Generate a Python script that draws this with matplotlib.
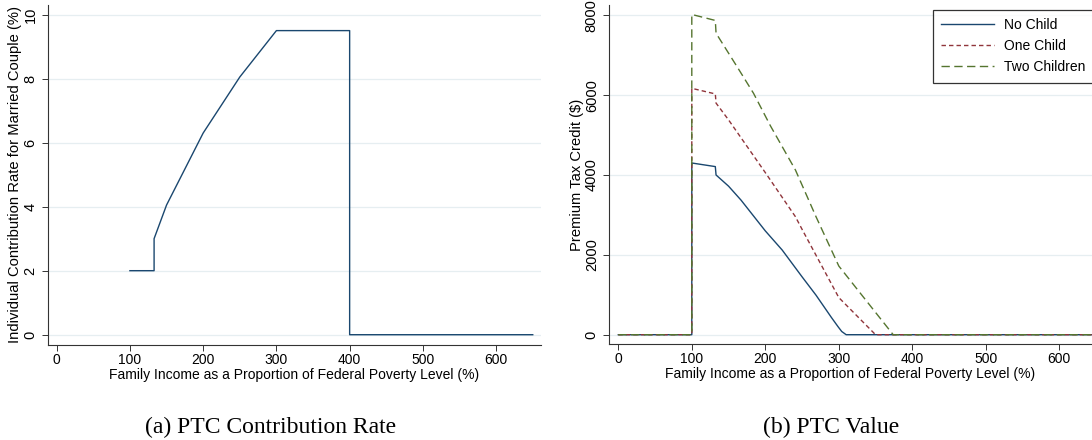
import matplotlib
matplotlib.use("Agg")
import matplotlib.pyplot as plt

# ---- data ----
# (a) contribution rate for a married couple, % of income
rate_x = [100, 133, 133, 150, 200, 250, 300, 400, 400, 650]
rate_y = [2.0, 2.0, 3.0, 4.05, 6.3, 8.05, 9.5, 9.5, 0.0, 0.0]

# (b) premium tax credit value, $
no_child_x = [0, 100, 100, 132, 133, 150, 167, 200, 223, 250, 269, 290, 299, 304, 310, 650]
no_child_y = [0, 0, 4300, 4210, 4000, 3720, 3370, 2600, 2120, 1450, 990, 430, 200, 80, 0, 0]

one_child_x = [0, 100, 100, 132, 133, 150, 200, 241, 250, 300, 350, 650]
one_child_y = [0, 0, 6170, 6030, 5800, 5380, 4060, 2955, 2640, 930, 0, 0]

two_children_x = [0, 100, 100, 132, 133, 163, 184, 207, 241, 269, 300, 374, 650]
two_children_y = [0, 0, 8020, 7870, 7550, 6670, 6045, 5230, 4125, 2955, 1720, 0, 0]

series_labels = ["No Child", "One Child", "Two Children"]
x_ticks = [0, 100, 200, 300, 400, 500, 600]
rate_ticks = [0, 2, 4, 6, 8, 10]
ptc_ticks = [0, 2000, 4000, 6000, 8000]

xlabel = "Family Income as a Proportion of Federal Poverty Level (%)"

plt.rcParams["font.family"] = ["Liberation Sans", "DejaVu Sans"]
plt.rcParams["lines.scale_dashes"] = False

navy = "#1a476f"
maroon = "#90353b"
green = "#55752f"
grid_col = "#e6eef1"
axis_col = "#333333"

W, H = 1092, 440
fig = plt.figure(figsize=(W / 100, H / 100), dpi=100)


def px_axes(x0, x1, top, bottom):
    # axes box given in pixel coords of the 1092x440 canvas
    return fig.add_axes([x0 / W, 1 - bottom / H, (x1 - x0) / W, (bottom - top) / H])


def style(ax, yticks):
    for s in ("top", "right"):
        ax.spines[s].set_visible(False)
    for s in ("left", "bottom"):
        ax.spines[s].set_color(axis_col)
        ax.spines[s].set_linewidth(0.8)
    ax.set_xticks(x_ticks)
    ax.set_yticks(yticks)
    ax.yaxis.grid(True, color=grid_col, linewidth=0.9)
    ax.set_axisbelow(True)
    ax.tick_params(axis="both", direction="out", length=4.3, width=0.7,
                   color=axis_col, labelsize=10, labelcolor="black")
    ax.tick_params(axis="x", pad=1.5)
    ax.tick_params(axis="y", pad=3, labelrotation=90, labelsize=10.5)
    plt.setp(ax.get_yticklabels(), va="center")
    ax.set_xlabel(xlabel, fontsize=10, labelpad=1)


# ---- (a) ----
ax1 = px_axes(47.6, 540.8, 5, 344.5)
ax1.plot(rate_x, rate_y, color=navy, linewidth=1.0)
ax1.set_xlim(-12.4, 661)
ax1.set_ylim(-0.306, 10.3)
style(ax1, rate_ticks)
ax1.set_ylabel("Individual Contribution Rate for Married Couple (%)", fontsize=10.6, labelpad=0.8)

# ---- (b) ----
ax2 = px_axes(609, W, 5, 344)
ax2.plot(no_child_x, no_child_y, color=navy, linewidth=1.0, label=series_labels[0])
ax2.plot(one_child_x, one_child_y, color=maroon, linewidth=1.0,
         dashes=(3.2, 2.2), label=series_labels[1])
ax2.plot(two_children_x, two_children_y, color=green, linewidth=1.0,
         dashes=(6, 3.2), label=series_labels[2])
ax2.set_xlim(-12.65, 644.5)
ax2.set_ylim(-233, 8257)
style(ax2, ptc_ticks)
ax2.set_ylabel("Premium Tax Credit ($)", fontsize=10.6, labelpad=0.8)

leg = ax2.legend(loc="upper left", bbox_to_anchor=(933 / W, 1 - 10 / H),
                 bbox_transform=fig.transFigure, fontsize=10, frameon=True,
                 fancybox=False, borderaxespad=0, borderpad=0.6,
                 handlelength=3.8, handletextpad=0.7, labelspacing=0.5)
leg.get_frame().set_edgecolor("black")
leg.get_frame().set_linewidth(0.9)

# captions under each panel
fig.text(271 / W, 1 - 427 / H, "(a) PTC Contribution Rate", ha="center", va="center",
         family=["Liberation Serif", "DejaVu Serif"], fontsize=17)
fig.text(831 / W, 1 - 427 / H, "(b) PTC Value", ha="center", va="center",
         family=["Liberation Serif", "DejaVu Serif"], fontsize=17)

fig.savefig("out.png", dpi=100)
